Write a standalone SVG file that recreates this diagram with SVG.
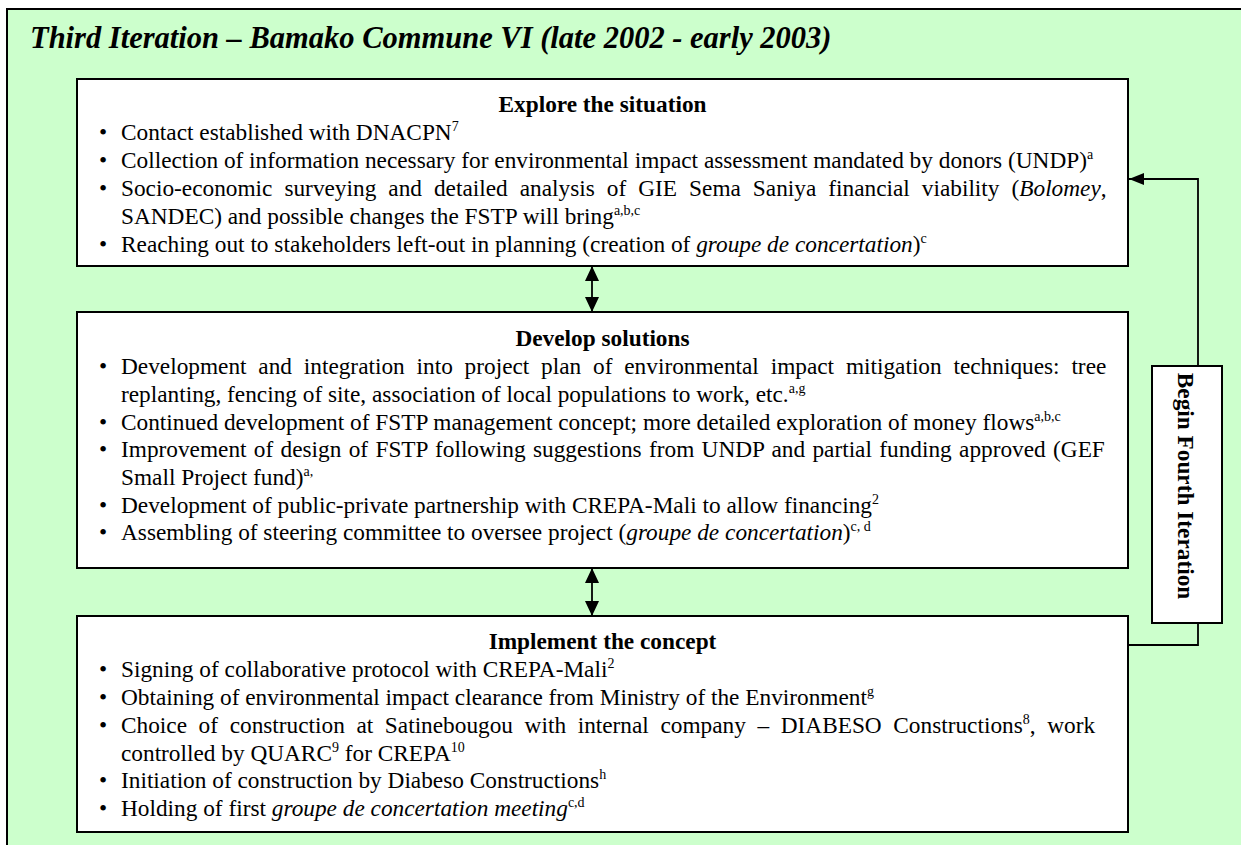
<svg xmlns="http://www.w3.org/2000/svg" width="1241" height="845" viewBox="0 0 1241 845">
  <style>
    .frame { fill: #CCFFCC; stroke: #000; stroke-width: 2; }
    .box { fill: #FFFFFF; stroke: #000; stroke-width: 2; }
    .title { font-family: "Liberation Serif", "Times New Roman", serif; font-size: 30.5px; font-weight: bold; font-style: italic; fill: #000; }
    .head { font-family: "Liberation Serif", "Times New Roman", serif; font-size: 23.3px; font-weight: bold; fill: #000; text-anchor: middle; }
    .t { font-family: "Liberation Serif", "Times New Roman", serif; font-size: 23.3px; fill: #000; }
    .i { font-style: italic; }
    .sup { font-size: 14px; baseline-shift: 9px; }
    .wire { fill: none; stroke: #000; stroke-width: 1.8; }
  </style>
  <defs>
    <marker id="arrowV" markerUnits="userSpaceOnUse" markerWidth="15" markerHeight="14" refX="15" refY="7" orient="auto-start-reverse">
      <path d="M0,0 L15,7 L0,14 Z" fill="#000"/>
    </marker>
    <marker id="arrowF" markerUnits="userSpaceOnUse" markerWidth="15" markerHeight="12" refX="15" refY="6" orient="auto">
      <path d="M0,0 L15,6 L0,12 Z" fill="#000"/>
    </marker>
  </defs>

  <!-- outer panel -->
  <rect class="frame" x="7" y="9" width="1250" height="850"/>
  <text class="title" x="30" y="48">Third Iteration – Bamako Commune VI (late 2002 - early 2003)</text>

  <!-- connectors -->
  <g id="connectors">
    <line class="wire" x1="592" y1="266" x2="592" y2="312" marker-start="url(#arrowV)" marker-end="url(#arrowV)"/>
    <line class="wire" x1="592" y1="568" x2="592" y2="616" marker-start="url(#arrowV)" marker-end="url(#arrowV)"/>
    <path class="wire" d="M1128,645 H1198 V179 H1129" marker-end="url(#arrowF)"/>
  </g>

  <!-- Explore the situation -->
  <g id="explore">
    <rect class="box" x="77" y="79" width="1051" height="187"/>
    <text class="head" x="602.5" y="112">Explore the situation</text>
    <text class="t" x="99" y="140">•</text>
    <text class="t" x="121" y="140">Contact established with DNACPN<tspan class="sup">7</tspan></text>
    <text class="t" x="99" y="168">•</text>
    <text class="t" x="121" y="168">Collection of information necessary for environmental impact assessment mandated by donors (UNDP)<tspan class="sup">a</tspan></text>
    <text class="t" x="99" y="196">•</text>
    <text class="t" x="121" y="196" word-spacing="6.2">Socio-economic surveying and detailed analysis of GIE Sema Saniya financial viability (<tspan class="i">Bolomey</tspan>,</text>
    <text class="t" x="121" y="224">SANDEC) and possible changes the FSTP will bring<tspan class="sup">a,b,c</tspan></text>
    <text class="t" x="99" y="252">•</text>
    <text class="t" x="121" y="252">Reaching out to stakeholders left-out in planning (creation of <tspan class="i">groupe de concertation</tspan>)<tspan class="sup">c</tspan></text>
  </g>

  <!-- Develop solutions -->
  <g id="develop">
    <rect class="box" x="77" y="312" width="1051" height="256"/>
    <text class="head" x="602.5" y="346">Develop solutions</text>
    <text class="t" x="99" y="374">•</text>
    <text class="t" x="121" y="374" word-spacing="6.0">Development and integration into project plan of environmental impact mitigation techniques: tree</text>
    <text class="t" x="121" y="402">replanting, fencing of site, association of local populations to work, etc.<tspan class="sup">a,g</tspan></text>
    <text class="t" x="99" y="430">•</text>
    <text class="t" x="121" y="430">Continued development of FSTP management concept; more detailed exploration of money flows<tspan class="sup">a,b,c</tspan></text>
    <text class="t" x="99" y="457">•</text>
    <text class="t" x="121" y="457" word-spacing="1.5">Improvement of design of FSTP following suggestions from UNDP and partial funding approved (GEF</text>
    <text class="t" x="121" y="485">Small Project fund)<tspan class="sup">a,</tspan></text>
    <text class="t" x="99" y="513">•</text>
    <text class="t" x="121" y="513">Development of public-private partnership with CREPA-Mali to allow financing<tspan class="sup">2</tspan></text>
    <text class="t" x="99" y="540">•</text>
    <text class="t" x="121" y="540">Assembling of steering committee to oversee project (<tspan class="i">groupe de concertation</tspan>)<tspan class="sup">c, d</tspan></text>
  </g>

  <!-- Implement the concept -->
  <g id="implement">
    <rect class="box" x="77" y="616" width="1051" height="216"/>
    <text class="head" x="602.5" y="649">Implement the concept</text>
    <text class="t" x="99" y="677">•</text>
    <text class="t" x="121" y="677">Signing of collaborative protocol with CREPA-Mali<tspan class="sup">2</tspan></text>
    <text class="t" x="99" y="705">•</text>
    <text class="t" x="121" y="705">Obtaining of environmental impact clearance from Ministry of the Environment<tspan class="sup">g</tspan></text>
    <text class="t" x="99" y="733">•</text>
    <text class="t" x="121" y="733" word-spacing="5.8">Choice of construction at Satinebougou with internal company – DIABESO Constructions<tspan class="sup">8</tspan>, work</text>
    <text class="t" x="121" y="761">controlled by QUARC<tspan class="sup">9</tspan> for CREPA<tspan class="sup">10</tspan></text>
    <text class="t" x="99" y="788">•</text>
    <text class="t" x="121" y="788">Initiation of construction by Diabeso Constructions<tspan class="sup">h</tspan></text>
    <text class="t" x="99" y="816">•</text>
    <text class="t" x="121" y="816">Holding of first <tspan class="i">groupe de concertation meeting</tspan><tspan class="sup">c,d</tspan></text>
  </g>

  <!-- Begin Fourth Iteration -->
  <g id="fourth">
    <rect class="box" x="1152" y="366" width="70" height="257"/>
    <text class="head" transform="translate(1178,486) rotate(90)">Begin Fourth Iteration</text>
  </g>
</svg>
